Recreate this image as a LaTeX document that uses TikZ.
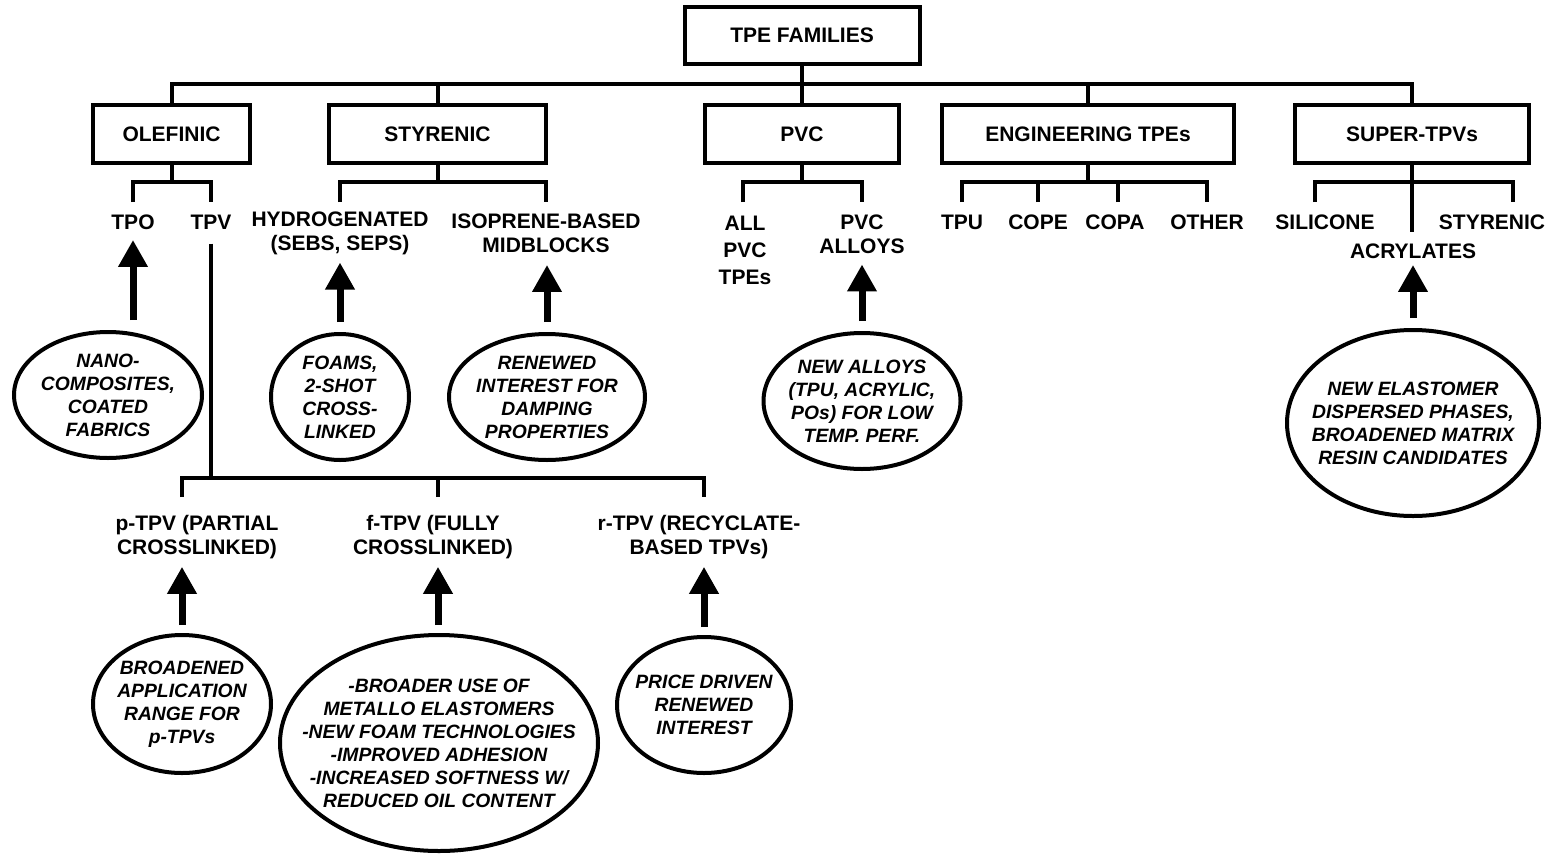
\documentclass[tikz,border=0pt]{standalone}
\usepackage{fontspec}
\setmainfont{Liberation Sans}
\usetikzlibrary{arrows.meta,shapes.geometric}
\begin{document}
\begin{tikzpicture}[x=1pt,y=-1pt,
  line width=4pt, line join=miter,
  box/.style={draw, line width=4pt, inner sep=0pt, font=\bfseries\fontsize{21}{24}\selectfont},
  lab/.style={inner sep=0pt, align=center, font=\bfseries\fontsize{21}{24}\selectfont},
  ell/.style={draw, ellipse, line width=4pt, inner sep=0pt},
  etxt/.style={inner sep=0pt, align=center, font=\bfseries\itshape\fontsize{19.3}{23}\selectfont},
  arr/.style={line width=7pt, -{Triangle[length=27pt,width=28pt]}},
]
\useasboundingbox (0,0) rectangle (1553,854);
\fill[white] (0,0) rectangle (1553,854);

% ---- top level boxes
\node[box, minimum width=235pt, minimum height=57pt] (fam) at (802,35.5) {TPE FAMILIES};
\node[box, minimum width=157pt, minimum height=58pt] (olef) at (171.5,134) {OLEFINIC};
\node[box, minimum width=217pt, minimum height=58pt] (styr) at (437.5,134) {STYRENIC};
\node[box, minimum width=194pt, minimum height=58pt] (pvc) at (802,134) {PVC};
\node[box, minimum width=292pt, minimum height=58pt] (eng) at (1088,134) {ENGINEERING TPEs};
\node[box, minimum width=234pt, minimum height=58pt] (super) at (1412,134) {SUPER-TPVs};

\coordinate (bus) at (0,84);
\draw (fam.south) -- (fam.south |- bus);
\draw (olef.north) |- (super.north |- bus) -- (super.north);
\draw (styr.north) -- (styr.north |- bus);
\draw (pvc.north) -- (pvc.north |- bus);
\draw (eng.north) -- (eng.north |- bus);

% ---- second level brackets
\coordinate (b2) at (0,182);
\coordinate (tpoD) at (133,202);
\coordinate (tpvD) at (211,202);
\coordinate (hydD) at (340,202);
\coordinate (isoD) at (546,202);
\coordinate (allD) at (743,202);
\coordinate (palD) at (862,202);
\coordinate (tpuD) at (962,202);
\coordinate (copeD) at (1038,202);
\coordinate (copaD) at (1118,202);
\coordinate (othD) at (1207,202);
\coordinate (silD) at (1315,202);
\coordinate (styD) at (1513,202);
\coordinate (acrD) at (1412,232);

\draw (olef.south) -- (olef.south |- b2);
\draw (tpoD) |- (b2 -| tpvD) -- (tpvD);
\draw (styr.south) -- (styr.south |- b2);
\draw (hydD) |- (b2 -| isoD) -- (isoD);
\draw (pvc.south) -- (pvc.south |- b2);
\draw (allD) |- (b2 -| palD) -- (palD);
\draw (eng.south) -- (eng.south |- b2);
\draw (tpuD) |- (b2 -| othD) -- (othD);
\draw (copeD) -- (copeD |- b2);
\draw (copaD) -- (copaD |- b2);
\draw (super.south) -- (acrD);
\draw (silD) |- (b2 -| styD) -- (styD);

% ---- second level labels
\node[lab] (tpo) at (133,222) {TPO};
\node[lab] (tpv) at (211,222) {TPV};
\node[lab] (hyd) at (340,233) {HYDROGENATED\\(SEBS, SEPS)};
\node[lab] (iso) at (546,233) {ISOPRENE-BASED\\MIDBLOCKS};
\node[lab, font=\bfseries\fontsize{21}{27}\selectfont] (allpvc) at (745,250) {ALL\\PVC\\TPEs};
\node[lab] (pvcal) at (862,234.5) {PVC\\ALLOYS};
\node[lab] (tpu) at (962,222) {TPU};
\node[lab] (cope) at (1038,222) {COPE};
\node[lab] (copa) at (1115,222) {COPA};
\node[lab] (other) at (1207,222) {OTHER};
\node[lab] (sil) at (1325,222) {SILICONE};
\node[lab] (stysub) at (1492,222) {STYRENIC};
\node[lab] (acr) at (1413,251) {ACRYLATES};

% ---- TPV sub tree
\coordinate (tbus) at (0,478);
\coordinate (pD) at (182,497);
\coordinate (fD) at (438,497);
\coordinate (rD) at (704,497);
\draw[shorten <=12.5pt] (tpv.south) -- (tpv.south |- tbus);
\draw (pD) |- (tbus -| rD) -- (rD);
\draw (fD) -- (fD |- tbus);

\node[lab] (ptpv) at (197,537) {p-TPV (PARTIAL\\CROSSLINKED)};
\node[lab] (ftpv) at (433,537) {f-TPV (FULLY\\CROSSLINKED)};
\node[lab] (rtpv) at (699,537) {r-TPV (RECYCLATE-\\BASED TPVs)};

% ---- ellipses
\node[ell, minimum width=188pt, minimum height=126pt] (nano) at (108,395) {};
\node[etxt] (nanot) at (nano) {NANO-\\COMPOSITES,\\COATED\\FABRICS};
\node[ell, minimum width=138pt, minimum height=126pt] (foam) at (340,397) {};
\node[etxt] (foamt) at (foam) {FOAMS,\\2-SHOT\\CROSS-\\LINKED};
\node[ell, minimum width=196pt, minimum height=126pt] (renew) at (547,397) {};
\node[etxt] (renewt) at (renew) {RENEWED\\INTEREST FOR\\DAMPING\\PROPERTIES};
\node[ell, minimum width=197pt, minimum height=136pt] (pvcell) at (862,401) {};
\node[etxt] (pvcellt) at (pvcell) {NEW ALLOYS\\(TPU, ACRYLIC,\\POs) FOR LOW\\TEMP. PERF.};
\node[ell, minimum width=252pt, minimum height=186pt] (supell) at (1413,423) {};
\node[etxt] (supellt) at (supell) {NEW ELASTOMER\\DISPERSED PHASES,\\BROADENED MATRIX\\RESIN CANDIDATES};
\node[ell, minimum width=178pt, minimum height=138pt] (pell) at (182,704) {};
\node[etxt] (pellt) at (pell) {BROADENED\\APPLICATION\\RANGE FOR\\p-TPVs};
\node[ell, minimum width=318pt, minimum height=216pt] (fell) at (439,743) {};
\node[etxt] (fellt) at (fell) {-BROADER USE OF\\METALLO ELASTOMERS\\-NEW FOAM TECHNOLOGIES\\-IMPROVED ADHESION\\-INCREASED SOFTNESS W/\\REDUCED OIL CONTENT};
\node[ell, minimum width=174pt, minimum height=136pt] (rell) at (704,705) {};
\node[etxt] (rellt) at (rell) {PRICE DRIVEN\\RENEWED\\INTEREST};

% ---- arrows
\draw[arr, shorten <=10pt, shorten >=8.5pt] (tpo.south |- nano.north) -- (tpo.south);
\draw[arr, shorten <=10pt, shorten >=6pt] (foam.north) -- (foam.north |- hyd.south);
\draw[arr, shorten <=10pt, shorten >=10.5pt] (renew.north) -- (renew.north |- iso.south);
\draw[arr, shorten <=10pt, shorten >=8.5pt] (pvcell.north) -- (pvcell.north |- pvcal.south);
\draw[arr, shorten <=10pt, shorten >=4.5pt] (supell.north) -- (supell.north |- acr.south);
\draw[arr, shorten <=8pt, shorten >=6pt] (pell.north) -- (pell.north |- ptpv.south);
\draw[arr, shorten <=8pt, shorten >=6pt] (fD |- fell.north) -- (fD |- ftpv.south);
\draw[arr, shorten <=8pt, shorten >=6pt] (rell.north) -- (rell.north |- rtpv.south);
\end{tikzpicture}
\end{document}
